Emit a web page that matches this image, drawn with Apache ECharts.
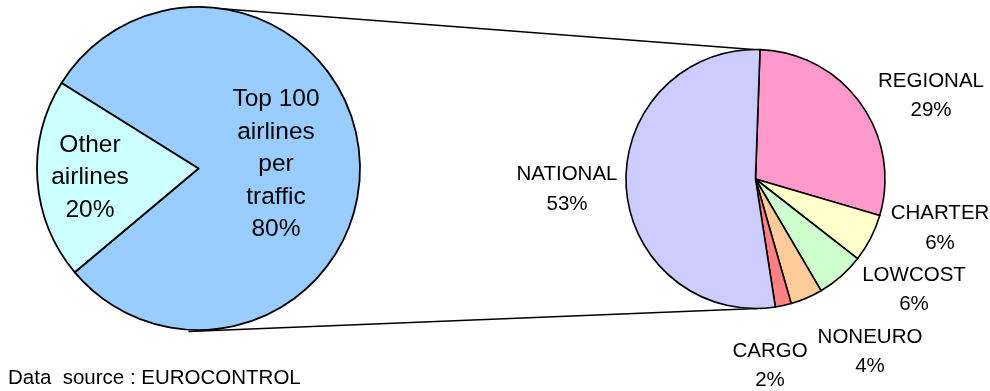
<!DOCTYPE html>
<html>
<head>
<meta charset="utf-8">
<title>Airline traffic breakdown</title>
<script src="https://cdn.jsdelivr.net/npm/echarts@6/dist/echarts.min.js"></script>
<style>
  html, body { margin: 0; padding: 0; background: #ffffff; }
  #chart { width: 990px; height: 391px; }
</style>
</head>
<body>
<div id="chart"></div>
<script>
// Share of traffic: top 100 airlines vs the rest
const overviewNames = ['Top 100\nairlines\nper\ntraffic', 'Other\nairlines'];
const overviewValues = [80, 20];

// Breakdown of the top 100 airlines by type (clockwise from the top)
const typeNames = ['REGIONAL', 'CHARTER', 'LOWCOST', 'NONEURO', 'CARGO', 'NATIONAL'];
const typeValues = [29, 6, 6, 4, 2, 53];

const sourceNote = 'Data  source : EUROCONTROL';

// Layout
const LEFT = { cx: 198.5, cy: 168.5, r: 161.5, start: 148 };
const RIGHT = { cx: 755.5, cy: 179, r: 129.5, start: 88 };
const overviewColors = ['#99CCFF', '#CCFFFF'];
const typeColors = ['#FF99CC', '#FFFFCC', '#CCFFCC', '#FFCC99', '#FF8080', '#CCCCFF'];
// label block centres, relative to each pie centre
const overviewLabelPos = [[77.5, -4], [-108.5, 9]];
const typeLabelPos = [[175.5, -83], [184.5, 49.5], [158.5, 111], [114.5, 173], [14.5, 187], [-188.5, 10.5]];

const chart = echarts.init(document.getElementById('chart'), null, { renderer: 'canvas' });

function pieSeries(geo, names, values, colors, labelPos, fontSize, lineHeight, borderWidth) {
  return {
    type: 'pie',
    center: [geo.cx, geo.cy],
    radius: geo.r,
    startAngle: geo.start,
    clockwise: true,
    avoidLabelOverlap: false,
    silent: true,
    itemStyle: { borderColor: '#000000', borderWidth: borderWidth },
    label: {
      show: true,
      position: 'inside',
      color: '#000000',
      fontFamily: 'Liberation Sans, Arial, sans-serif',
      fontSize: fontSize,
      lineHeight: lineHeight,
      formatter: p => p.name + '\n' + p.value + '%'
    },
    labelLine: { show: false },
    labelLayout: params => {
      const o = labelPos[params.dataIndex];
      return { x: geo.cx + o[0], y: geo.cy + o[1], align: 'center', verticalAlign: 'middle' };
    },
    emphasis: { disabled: true },
    data: names.map((n, i) => ({ name: n, value: values[i], itemStyle: { color: colors[i] } }))
  };
}

chart.setOption({
  animation: false,
  backgroundColor: '#ffffff',
  graphic: [
    // connector lines between the two pies
    {
      type: 'line', silent: true, z: 0,
      shape: { x1: LEFT.cx, y1: LEFT.cy - LEFT.r, x2: RIGHT.cx - 2, y2: RIGHT.cy - RIGHT.r },
      style: { stroke: '#000000', lineWidth: 1.5 }
    },
    {
      type: 'line', silent: true, z: 0,
      shape: { x1: LEFT.cx - 10, y1: LEFT.cy + LEFT.r + 1.5, x2: RIGHT.cx + 2, y2: RIGHT.cy + RIGHT.r },
      style: { stroke: '#000000', lineWidth: 1.5 }
    },
    {
      type: 'text', left: 8, top: 368, silent: true,
      style: { text: sourceNote, fill: '#000000', font: '20.5px "Liberation Sans", Arial, sans-serif' }
    }
  ],
  series: [
    pieSeries(LEFT, overviewNames, overviewValues, overviewColors, overviewLabelPos, 24.5, 32.5, 1.8),
    pieSeries(RIGHT, typeNames, typeValues, typeColors, typeLabelPos, 20.5, 29.5, 1.6)
  ]
});
</script>
</body>
</html>
